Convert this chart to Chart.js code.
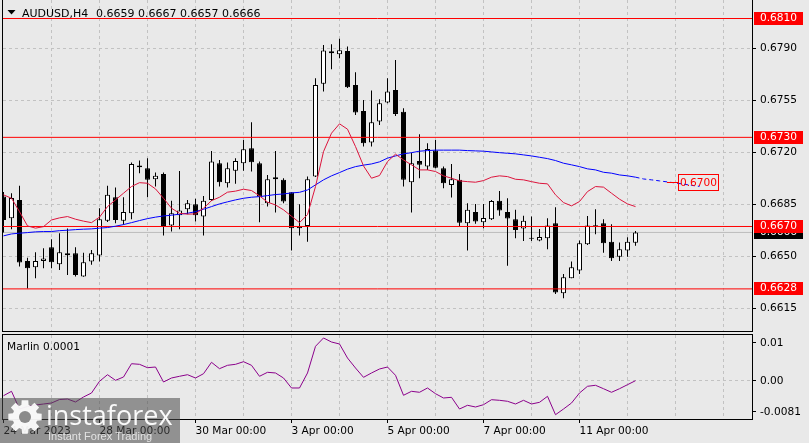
<!DOCTYPE html>
<html>
<head>
<meta charset="utf-8">
<title>AUDUSD H4</title>
<script src="https://cdn.jsdelivr.net/npm/chart.js@4.4.1/dist/chart.umd.min.js"></script>
<style>
html,body{margin:0;padding:0;background:#E9E9E9;overflow:hidden;}
#wrap{position:relative;width:809px;height:443px;background:#E9E9E9;}
#mainC{position:absolute;left:0;top:0;}
#indC{position:absolute;left:0;top:333px;}
</style>
</head>
<body>
<div id="wrap">
<canvas id="mainC" width="809" height="333"></canvas>
<canvas id="indC" width="809" height="110"></canvas>
</div>
<script>
// ---------------- DATA ----------------
const symbolTitle = 'AUDUSD,H4';
const indicatorName = 'Marlin 0.0001';
const lastBar = [0.6659, 0.6667, 0.6657, 0.6666]; // O H L C of last candle

const openP = [0.66902,0.66756,0.66879,0.66468,0.66426,0.66468,0.66561,0.66446,0.66520,0.66520,
0.66363,0.66464,0.66504,0.66738,0.66897,0.66738,0.66789,0.67110,0.67092,0.67018,
0.67054,0.66706,0.66776,0.66816,0.66850,0.66767,0.66879,0.67126,0.66991,0.67076,
0.67126,0.67227,0.67126,0.66857,0.67032,0.67014,0.66931,0.66704,0.66704,0.67036,
0.67660,0.67880,0.67860,0.67882,0.67653,0.67478,0.67265,0.67406,0.67534,0.67619,
0.67473,0.66998,0.67141,0.67103,0.67211,0.67092,0.66980,0.67014,0.66722,0.66798,
0.66729,0.66749,0.66874,0.66798,0.66749,0.66686,0.66625,0.66605,0.66621,0.66722,
0.66251,0.66352,0.66403,0.66581,0.66702,0.66722,0.66598,0.66497,0.66538,0.66590];

const highP = [0.66933,0.66924,0.66975,0.66489,0.66527,0.66554,0.66615,0.66655,0.66686,0.66561,
0.66524,0.66542,0.66823,0.66975,0.66962,0.66897,0.67130,0.67144,0.67160,0.67063,
0.67063,0.66874,0.67074,0.66879,0.66886,0.66906,0.67209,0.67148,0.67130,0.67160,
0.67283,0.67402,0.67137,0.67047,0.67209,0.67025,0.66931,0.66850,0.67036,0.67698,
0.67922,0.67927,0.67963,0.67911,0.67739,0.67552,0.67615,0.67557,0.67698,0.67821,
0.67496,0.67197,0.67321,0.67261,0.67283,0.67103,0.67121,0.67054,0.66857,0.66852,
0.66852,0.66879,0.66939,0.66890,0.66812,0.66773,0.66767,0.66684,0.66756,0.66830,
0.66381,0.66464,0.66605,0.66771,0.66816,0.66749,0.66715,0.66592,0.66628,0.66670];

const lowP = [0.66660,0.66682,0.66430,0.66283,0.66352,0.66419,0.66419,0.66408,0.66374,0.66363,
0.66361,0.66442,0.66464,0.66731,0.66722,0.66711,0.66749,0.67059,0.66897,0.66969,
0.66639,0.66666,0.66682,0.66783,0.66733,0.66639,0.66872,0.66969,0.66962,0.66987,
0.67076,0.67070,0.66729,0.66834,0.66794,0.66857,0.66538,0.66639,0.66598,0.67034,
0.67608,0.67759,0.67833,0.67633,0.67451,0.67238,0.67238,0.67384,0.67530,0.67444,
0.66969,0.66794,0.67025,0.67081,0.67092,0.66958,0.66895,0.66704,0.66538,0.66718,
0.66689,0.66744,0.66773,0.66435,0.66621,0.66603,0.66603,0.66601,0.66547,0.66246,
0.66217,0.66351,0.66381,0.66576,0.66648,0.66524,0.66468,0.66468,0.66497,0.66570];

const closeP = [0.66744,0.66891,0.66457,0.66419,0.66468,0.66484,0.66460,0.66527,0.66507,0.66374,
0.66460,0.66520,0.66749,0.66913,0.66744,0.66798,0.67121,0.67099,0.67014,0.67041,
0.66704,0.66789,0.66807,0.66857,0.66776,0.66874,0.67137,0.66998,0.67092,0.67141,
0.67220,0.67133,0.66901,0.67018,0.67018,0.66868,0.66689,0.66689,0.67018,0.67653,
0.67884,0.67866,0.67887,0.67638,0.67467,0.67261,0.67402,0.67530,0.67608,0.67458,
0.67014,0.67126,0.67115,0.67222,0.67096,0.66991,0.67018,0.66726,0.66812,0.66733,
0.66758,0.66872,0.66807,0.66753,0.66677,0.66738,0.66617,0.66630,0.66706,0.66255,
0.66359,0.66426,0.66588,0.66706,0.66709,0.66588,0.66487,0.66547,0.66598,0.66660];

const maFast = [0.66913,0.66890,0.66800,0.66704,0.66689,0.66699,0.66744,0.66758,0.66767,0.66749,
0.66736,0.66726,0.66763,0.66834,0.66879,0.66924,0.66969,0.66995,0.66991,0.66953,
0.66890,0.66823,0.66789,0.66783,0.66785,0.66823,0.66874,0.66897,0.66931,0.66938,
0.66951,0.66942,0.66906,0.66864,0.66845,0.66812,0.66769,0.66726,0.66780,0.66969,
0.67204,0.67328,0.67391,0.67355,0.67238,0.67108,0.67025,0.67043,0.67137,0.67187,
0.67148,0.67115,0.67081,0.67081,0.67070,0.67041,0.67025,0.67007,0.67002,0.66998,
0.67009,0.67032,0.67041,0.67036,0.67018,0.67014,0.67002,0.66991,0.66987,0.66913,
0.66861,0.66839,0.66868,0.66935,0.66969,0.66965,0.66924,0.66884,0.66852,0.66834];

const maSlow = [0.66637,0.66650,0.66655,0.66659,0.66664,0.66666,0.66666,0.66672,0.66675,0.66679,
0.66682,0.66684,0.66689,0.66693,0.66702,0.66713,0.66726,0.66740,0.66753,0.66763,
0.66771,0.66776,0.66783,0.66789,0.66800,0.66816,0.66834,0.66852,0.66866,0.66879,
0.66890,0.66897,0.66901,0.66908,0.66915,0.66919,0.66926,0.66930,0.66946,0.66980,
0.67014,0.67041,0.67063,0.67086,0.67103,0.67113,0.67121,0.67135,0.67160,0.67175,
0.67189,0.67197,0.67207,0.67211,0.67214,0.67214,0.67214,0.67214,0.67211,0.67209,
0.67207,0.67202,0.67197,0.67193,0.67189,0.67182,0.67175,0.67166,0.67157,0.67144,
0.67126,0.67115,0.67103,0.67088,0.67081,0.67065,0.67059,0.67047,0.67041,0.67032];

const maSlowProjStart = 79;
const maSlowProj = [0.67032,0.67020,0.67014,0.67007,0.67000,0.66993,0.66985,0.66977,0.66970];

const marlin = [-0.00387,-0.00271,-0.00737,-0.00671,-0.00632,-0.00605,-0.00579,-0.00487,-0.00474,-0.00553,
-0.00421,-0.00316,-0.00008,0.00166,0.00018,0.00105,0.00455,0.00439,0.00350,0.00368,
-0.00026,0.00079,0.00124,0.00166,0.00079,0.00192,0.00492,0.00324,0.00413,0.00439,
0.00508,0.00413,0.00124,0.00229,0.00211,0.00079,-0.00184,-0.00184,0.00211,0.00913,
0.01132,0.01026,0.00974,0.00605,0.00342,0.00097,0.00211,0.00316,0.00368,0.00150,
-0.00376,-0.00271,-0.00297,-0.00184,-0.00334,-0.00447,-0.00429,-0.00737,-0.00639,-0.00684,
-0.00624,-0.00492,-0.00508,-0.00534,-0.00605,-0.00508,-0.00605,-0.00561,-0.00403,-0.00887,
-0.00737,-0.00579,-0.00316,-0.00139,-0.00113,-0.00203,-0.00297,-0.00203,-0.00097,0.00008];

const levels = [0.6810, 0.6730, 0.6670, 0.6628];
const labelPrice = 0.6700;
const priceTicks = [0.6790, 0.6755, 0.6720, 0.6685, 0.6650, 0.6615];
const marlinTicks = [0.01, 0, -0.0081];
const marlinTickText = ['0.01', '0.00', '-0.0081'];
const dateTickIdx = [0, 12, 24, 36, 48, 60, 72];
const dateTickText = ['24 Mar 2023', '28 Mar 00:00', '30 Mar 00:00', '3 Apr 00:00', '5 Apr 00:00', '7 Apr 00:00', '11 Apr 00:00'];
const gridIdx = [0, 6, 12, 18, 24, 30, 36, 42, 48, 54, 60, 66, 72, 78, 84, 90];

// ---------------- SETUP ----------------
const FONT = 'DejaVu Sans';
const GRID = '#C2C2C2';
Chart.defaults.font.family = FONT;
Chart.defaults.font.size = 10.6;
Chart.defaults.color = '#000';

const X_MIN = -0.0625, X_MAX = X_MIN + 749 / 8;
const PXU = 14857;
const Y_MAX = 0.6810 + 18.5 / PXU;
const Y_MIN = Y_MAX - 331 / PXU;
const M_MAX = 0.012105, M_MIN = -0.0100;

const idx = openP.map((_, i) => i);
const xy = (arr, start) => arr.map((v, i) => ({ x: i + (start || 0), y: v }));
const hline = v => [{ x: X_MIN - 1, y: v }, { x: X_MAX + 1, y: v }];

function xAxis(showLabels) {
  return {
    type: 'linear', min: X_MIN, max: X_MAX, offset: false,
    afterBuildTicks: s => { s.ticks = gridIdx.map(v => ({ value: v })); },
    ticks: {
      display: showLabels, autoSkip: false, maxRotation: 0, minRotation: 0, align: 'start', padding: 2,
      color: '#000', font: { family: FONT, size: 10.6 },
      callback: v => { const i = dateTickIdx.indexOf(v); return i >= 0 ? dateTickText[i] : ''; }
    },
    grid: {
      offset: false, lineWidth: 1,
      color: c => (c.tick && c.tick.value === 0) ? 'rgba(0,0,0,0)' : GRID,
      drawTicks: showLabels, tickLength: 4, tickWidth: 1, tickBorderDash: [],
      tickColor: c => (c.tick && dateTickIdx.includes(c.tick.value)) ? '#000' : 'rgba(0,0,0,0)'
    },
    border: { display: false, dash: [3, 3] },
    afterFit: s => { s.height = showLabels ? 24 : 0; s.paddingLeft = 0; s.paddingRight = 0; }
  };
}

function frame(ctx, a) {
  ctx.strokeStyle = '#000'; ctx.lineWidth = 1;
  ctx.strokeRect(a.left - 0.5, a.top - 0.5, a.right - a.left + 1, a.bottom - a.top + 1);
}

const mainDecor = {
  id: 'mainDecor',
  afterDatasetsDraw(chart) {
    const { ctx, scales: { y } } = chart;
    const yy = Math.round(y.getPixelForValue(labelPrice)) + 0.5;
    ctx.save();
    ctx.strokeStyle = '#FF0000'; ctx.lineWidth = 1;
    ctx.beginPath(); ctx.moveTo(667, yy); ctx.lineTo(678, yy); ctx.stroke();
    ctx.strokeRect(678.5, yy - 8, 40, 16);
    ctx.fillStyle = '#FF0000'; ctx.font = '10.6px "DejaVu Sans"'; ctx.textBaseline = 'middle'; ctx.textAlign = 'left';
    ctx.fillText(labelPrice.toFixed(4), 680, yy + 0.5);
    ctx.restore();
  },
  afterDraw(chart) {
    const { ctx, chartArea: a, scales: { y } } = chart;
    ctx.save();
    frame(ctx, a);
    // header
    ctx.fillStyle = '#000';
    ctx.beginPath(); ctx.moveTo(7.5, 10); ctx.lineTo(15.5, 10); ctx.lineTo(11.5, 14.5); ctx.closePath(); ctx.fill();
    ctx.font = '11px "DejaVu Sans"'; ctx.textBaseline = 'alphabetic'; ctx.textAlign = 'left';
    ctx.fillText(symbolTitle, 22, 17);
    ctx.fillText(lastBar.map(v => v.toFixed(4)).join(' '), 96, 17);
    // axis price labels
    const lab = (v, bg, fg) => {
      const p = Math.floor(y.getPixelForValue(v) + 0.1);
      ctx.fillStyle = bg; ctx.fillRect(a.right + 2, p - 6, 49, 13);
      ctx.fillStyle = fg; ctx.font = '10.6px "DejaVu Sans"'; ctx.textBaseline = 'middle';
      ctx.fillText(v.toFixed(4), a.right + 8, p + 0.5);
    };
    lab(lastBar[3], '#000000', '#FFFFFF');
    levels.forEach(v => lab(v, '#FF0000', '#FFFFFF'));
    ctx.restore();
  }
};

const indDecor = {
  id: 'indDecor',
  afterDraw(chart) {
    const { ctx, chartArea: a } = chart;
    ctx.save();
    frame(ctx, a);
    ctx.fillStyle = '#000'; ctx.font = '10.6px "DejaVu Sans"'; ctx.textBaseline = 'alphabetic'; ctx.textAlign = 'left';
    ctx.fillText(indicatorName, 7, 16.5);
    // watermark
    ctx.fillStyle = 'rgba(72,72,72,0.55)';
    ctx.fillRect(0, 65, 180, 45);
    const cx = 25, cy = 84, ro = 17, ri = 12.5, n = 8;
    ctx.fillStyle = 'rgba(255,255,255,0.92)';
    ctx.beginPath();
    for (let i = 0; i < n; i++) {
      const ang = i * 2 * Math.PI / n, w = Math.PI / n * 0.5;
      ctx.lineTo(cx + ri * Math.cos(ang - w * 1.5), cy + ri * Math.sin(ang - w * 1.5));
      ctx.lineTo(cx + ro * Math.cos(ang - w), cy + ro * Math.sin(ang - w));
      ctx.lineTo(cx + ro * Math.cos(ang + w), cy + ro * Math.sin(ang + w));
      ctx.lineTo(cx + ri * Math.cos(ang + w * 1.5), cy + ri * Math.sin(ang + w * 1.5));
    }
    ctx.closePath(); ctx.fill();
    ctx.fillStyle = '#8a8a8a';
    ctx.beginPath(); ctx.arc(cx, cy, 6, 0, Math.PI * 2); ctx.fill();
    ctx.fillStyle = 'rgba(255,255,255,0.95)'; ctx.font = '27px "Open Sans"';
    ctx.fillText('instaforex', 46, 92);
    ctx.fillStyle = 'rgba(235,235,235,0.9)'; ctx.font = '11px "Liberation Sans"';
    ctx.fillText('Instant Forex Trading', 48, 107);
    ctx.restore();
  }
};

const baseOpts = {
  responsive: false, animation: false, devicePixelRatio: 1, events: [],
  plugins: { legend: { display: false }, tooltip: { enabled: false }, title: { display: false } }
};

new Chart(document.getElementById('mainC'), {
  type: 'bar',
  data: {
    datasets: [
      { type: 'line', data: hline(lastBar[3]), borderColor: '#BDBDBD', borderWidth: 1, pointRadius: 0, order: 30 },
      { type: 'bar', data: idx.map(i => ({ x: i, y: [lowP[i], highP[i]] })), backgroundColor: '#000000',
        borderWidth: 0, barThickness: 1, grouped: false, inflateAmount: 0, order: 20 },
      { type: 'bar', data: idx.map(i => ({ x: i, y: [openP[i], closeP[i]] })),
        backgroundColor: idx.map(i => closeP[i] >= openP[i] ? '#FFFFFF' : '#000000'),
        borderColor: '#000000', borderWidth: 1, borderSkipped: false, barThickness: 5, grouped: false,
        inflateAmount: 0, minBarLength: 1, order: 19 },
      ...levels.map(v => ({ type: 'line', data: hline(v), borderColor: '#FF0000', borderWidth: 1, pointRadius: 0, order: 10 })),
      { type: 'line', data: xy(maSlow), borderColor: '#0000FF', borderWidth: 1, pointRadius: 0, order: 5 },
      { type: 'line', data: xy(maSlowProj, maSlowProjStart), borderColor: '#0000FF', borderWidth: 1, borderDash: [4, 3], pointRadius: 0, order: 5 },
      { type: 'line', data: xy(maFast), borderColor: '#DC143C', borderWidth: 1, pointRadius: 0, order: 4 }
    ]
  },
  options: Object.assign({}, baseOpts, {
    layout: { padding: { left: 3, right: 0, top: 0, bottom: 2 } },
    scales: {
      x: xAxis(false),
      y: {
        type: 'linear', position: 'right', min: Y_MIN, max: Y_MAX,
        afterBuildTicks: s => { s.ticks = priceTicks.map(v => ({ value: v })); },
        ticks: { autoSkip: false, padding: 4, color: '#000', font: { family: FONT, size: 10.6 }, callback: v => Number(v).toFixed(4) },
        grid: { color: GRID, lineWidth: 1, drawTicks: true, tickLength: 4, tickColor: '#000', tickBorderDash: [] },
        border: { display: false, dash: [3, 3] },
        afterFit: s => { s.width = 57; s.paddingTop = 0; s.paddingBottom = 0; }
      }
    }
  }),
  plugins: [mainDecor]
});

new Chart(document.getElementById('indC'), {
  type: 'line',
  data: {
    datasets: [
      { data: xy(marlin), borderColor: '#8B008B', borderWidth: 1, pointRadius: 0, tension: 0 }
    ]
  },
  options: Object.assign({}, baseOpts, {
    layout: { padding: { left: 3, right: 0, top: 2, bottom: 0 } },
    scales: {
      x: xAxis(true),
      y: {
        type: 'linear', position: 'right', min: M_MIN, max: M_MAX,
        afterBuildTicks: s => { s.ticks = marlinTicks.map(v => ({ value: v })); },
        ticks: { autoSkip: false, padding: 4, color: '#000', font: { family: FONT, size: 10.6 },
          callback: v => { const i = marlinTicks.indexOf(v); return i >= 0 ? marlinTickText[i] : ''; } },
        grid: { color: c => (c.tick && c.tick.value === 0) ? GRID : 'rgba(0,0,0,0)', lineWidth: 1, drawTicks: true,
          tickLength: 4, tickColor: '#000', tickBorderDash: [] },
        border: { display: false, dash: [3, 3] },
        afterFit: s => { s.width = 57; s.paddingTop = 0; s.paddingBottom = 0; }
      }
    }
  }),
  plugins: [indDecor]
});
</script>
</body>
</html>
